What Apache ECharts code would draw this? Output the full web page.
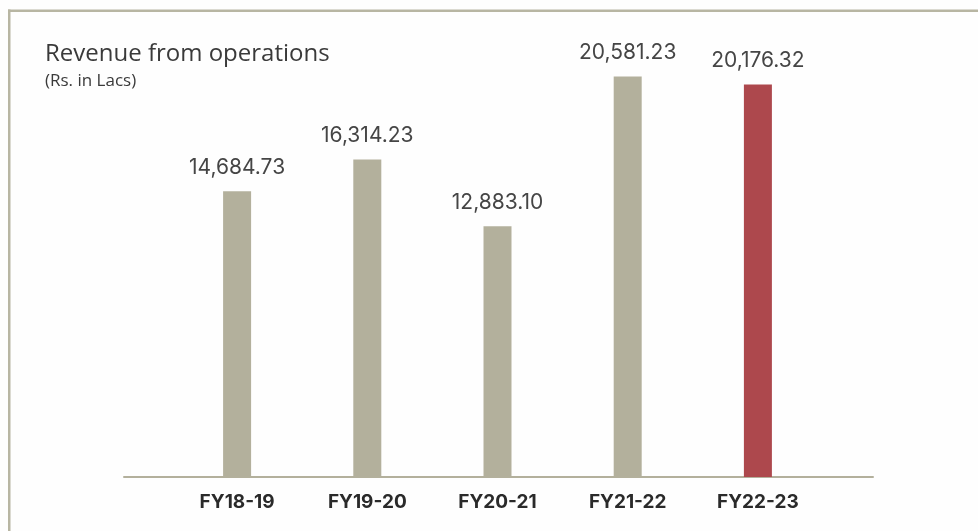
<!DOCTYPE html>
<html>
<head>
<meta charset="utf-8">
<script src="https://cdn.jsdelivr.net/npm/echarts@6/dist/echarts.min.js"></script>
<style>
html,body{margin:0;padding:0;background:#fefefe;}
#c{width:978px;height:531px;}
</style>
</head>
<body>
<div id="c"></div>
<script>
const categories = ['FY18-19', 'FY19-20', 'FY20-21', 'FY21-22', 'FY22-23'];
const revenue = [14684.73, 16314.23, 12883.10, 20581.23, 20176.32];
const barColors = ['#b3b09c', '#b3b09c', '#b3b09c', '#b3b09c', '#ad484d'];
const titleText = 'Revenue from operations';
const subtitleText = '(Rs. in Lacs)';

const fmt = v => v.toLocaleString('en-US', {minimumFractionDigits: 2, maximumFractionDigits: 2});

const chart = echarts.init(document.getElementById('c'), null, {renderer: 'canvas'});
chart.setOption({
  backgroundColor: '#fefefe',
  animation: false,
  title: {
    text: titleText,
    subtext: subtitleText,
    left: 40,
    top: 37,
    itemGap: 7,
    textStyle: {fontFamily: 'Open Sans', fontWeight: 'normal', fontSize: 24, color: '#3a3a3a'},
    subtextStyle: {fontFamily: 'Open Sans', fontWeight: 'normal', fontSize: 17, color: '#3a3a3a'}
  },
  graphic: [
    {type: 'rect', shape: {x: 8, y: 9.5, width: 970, height: 2.5}, style: {fill: '#b8b6a3'}, silent: true},
    {type: 'rect', shape: {x: 8, y: 9.5, width: 2.5, height: 522}, style: {fill: '#b8b6a3'}, silent: true}
  ],
  grid: [
    {left: 172, right: 155, top: 10, bottom: 54},
    {left: 124, right: 105, top: 10, bottom: 54}
  ],
  xAxis: [
    {
      type: 'category', gridIndex: 0, data: categories,
      axisLine: {show: false}, axisTick: {show: false},
      axisLabel: {margin: 16, fontFamily: 'Inter', fontWeight: 'bold', fontSize: 19, color: '#2a2a2a'}
    },
    {
      type: 'value', gridIndex: 1, min: 0, max: 1,
      axisLine: {show: true, lineStyle: {color: '#b3b09c', width: 2}},
      axisTick: {show: false}, axisLabel: {show: false}, splitLine: {show: false}
    }
  ],
  yAxis: [
    {type: 'value', gridIndex: 0, min: 0, max: 24000, show: false, splitLine: {show: false}},
    {type: 'value', gridIndex: 1, min: 0, max: 1, show: false, splitLine: {show: false}}
  ],
  series: [{
    type: 'bar',
    xAxisIndex: 0, yAxisIndex: 0,
    barWidth: 28,
    data: revenue.map((v, i) => ({value: v, itemStyle: {color: barColors[i]}})),
    label: {
      show: true, position: 'top', distance: 13,
      formatter: p => fmt(p.value),
      fontFamily: 'Inter', fontSize: 21, color: '#454545'
    }
  }]
});
</script>
</body>
</html>
